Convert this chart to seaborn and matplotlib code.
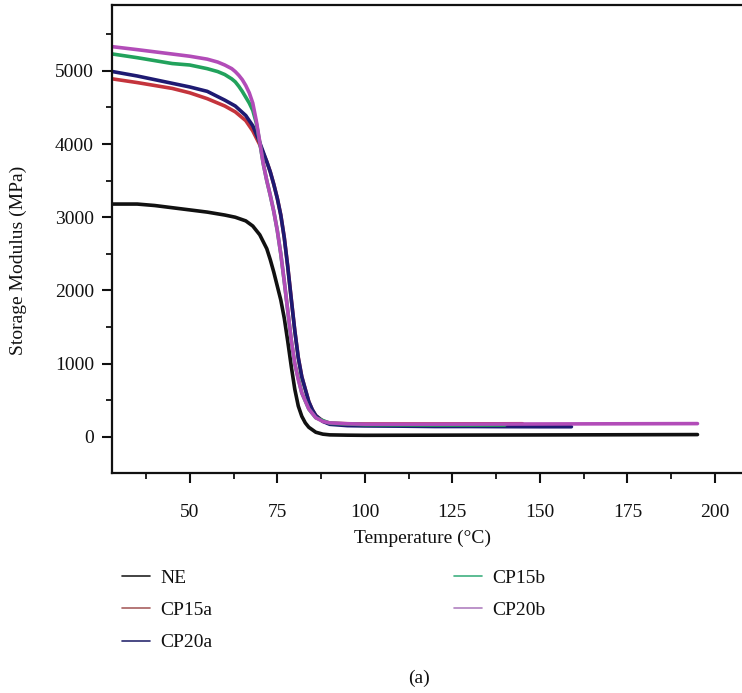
import numpy as np
import pandas as pd
import matplotlib
matplotlib.use("Agg")
import matplotlib.pyplot as plt
import seaborn as sns
from matplotlib.lines import Line2D
from matplotlib.ticker import MultipleLocator

# ---------------- data ----------------
ne_T = [28, 35, 40, 45, 50, 55, 60, 63, 66, 68, 70, 72, 73, 74, 75, 76, 77, 78, 79, 80, 81, 82, 83, 84, 86, 88, 90, 95, 100, 120, 150, 195]
ne_E = [3180, 3180, 3160, 3130, 3100, 3070, 3030, 3000, 2950, 2880, 2760, 2570, 2420, 2250, 2060, 1870, 1620, 1300, 960, 650, 420, 280, 190, 130, 62, 36, 26, 22, 20, 22, 25, 30]

cp15a_T = [28, 35, 40, 45, 50, 55, 60, 63, 66, 68, 70, 72, 73, 74, 75, 76, 77, 78, 79, 80, 81, 82, 84, 85, 86, 88, 90, 95, 100, 120, 145]
cp15a_E = [4890, 4840, 4800, 4760, 4700, 4620, 4520, 4440, 4320, 4180, 3990, 3760, 3620, 3450, 3260, 3030, 2720, 2320, 1880, 1450, 1080, 820, 480, 370, 290, 215, 185, 178, 175, 175, 178]

cp20a_T = [28, 35, 40, 45, 50, 55, 60, 63, 66, 68, 70, 72, 73, 74, 75, 76, 77, 78, 79, 80, 81, 82, 84, 85, 86, 88, 90, 95, 100, 110, 120, 130, 140, 150, 159]
cp20a_E = [4990, 4930, 4880, 4830, 4780, 4720, 4600, 4520, 4390, 4250, 4020, 3760, 3620, 3450, 3260, 3030, 2720, 2320, 1880, 1450, 1080, 820, 480, 370, 290, 210, 170, 152, 148, 145, 140, 140, 138, 137, 137]

cp15b_T = [28, 35, 40, 45, 50, 55, 58, 60, 62, 63, 64, 65, 66, 67, 68, 69, 70, 71, 72, 73, 74, 75, 76, 77, 78, 79, 80, 82, 84, 86, 90, 100, 120, 140]
cp15b_E = [5230, 5180, 5140, 5100, 5080, 5030, 4990, 4950, 4890, 4850, 4790, 4720, 4640, 4560, 4460, 4290, 4020, 3730, 3500, 3300, 3080, 2820, 2500, 2120, 1720, 1320, 1000, 600, 380, 260, 185, 165, 160, 160]

cp20b_T = [28, 35, 40, 45, 50, 55, 58, 60, 62, 63, 64, 65, 66, 67, 68, 69, 70, 71, 72, 73, 74, 75, 76, 77, 78, 79, 80, 81, 82, 84, 86, 88, 90, 95, 100, 120, 150, 195]
cp20b_E = [5330, 5290, 5260, 5230, 5200, 5160, 5120, 5080, 5030, 4990, 4940, 4880, 4800, 4700, 4560, 4320, 4030, 3730, 3500, 3300, 3080, 2820, 2500, 2120, 1720, 1320, 1000, 780, 600, 380, 260, 210, 190, 178, 172, 172, 175, 180]

series_names = ["NE", "CP15a", "CP20a", "CP15b", "CP20b"]
series_T = [ne_T, cp15a_T, cp20a_T, cp15b_T, cp20b_T]
series_E = [ne_E, cp15a_E, cp20a_E, cp15b_E, cp20b_E]
colors = {"NE": "#111111", "CP15a": "#c4343c", "CP20a": "#1e1a72",
          "CP15b": "#22a25c", "CP20b": "#b24cb8"}
legend_colors = {"NE": "#222222", "CP15a": "#a86060", "CP20a": "#2a2a70",
                 "CP15b": "#40b080", "CP20b": "#b080c0"}

x_ticks = [50, 75, 100, 125, 150, 175, 200]
y_ticks = [0, 1000, 2000, 3000, 4000, 5000]

rows = []
for name, T, E in zip(series_names, series_T, series_E):
    for t, e in zip(T, E):
        rows.append({"Temperature": t, "Modulus": e, "Sample": name})
df = pd.DataFrame(rows)

# ---------------- plot ----------------
sns.set_style("ticks")
plt.rcParams["font.family"] = ["Liberation Serif", "DejaVu Serif"]

FS = 14
fig = plt.figure(figsize=(7.42, 6.93), dpi=100)
ax = fig.add_axes([112 / 742, 1 - 473 / 693, 638 / 742, 468 / 693])

sns.lineplot(data=df, x="Temperature", y="Modulus", hue="Sample",
             hue_order=series_names, palette=colors, linewidth=2.6,
             sort=False, estimator=None, legend=False, ax=ax)
for ln in ax.get_lines():
    ln.set_solid_joinstyle("round")

ax.set_xlim(27.8, 210)
ax.set_ylim(-495, 5900)
ax.set_xticks(x_ticks)
ax.set_yticks(y_ticks)
ax.xaxis.set_minor_locator(MultipleLocator(12.5))
ax.yaxis.set_minor_locator(MultipleLocator(500))
ax.tick_params(axis="both", which="major", length=7, width=1.5, labelsize=FS,
               color="#111111", labelcolor="#111111")
ax.tick_params(axis="both", which="minor", length=4, width=1.3, color="#111111")
ax.tick_params(axis="x", which="major", pad=15)
ax.tick_params(axis="y", which="major", pad=6)
for s in ["left", "bottom", "top"]:
    ax.spines[s].set_linewidth(1.6)
    ax.spines[s].set_color("#111111")
ax.spines["right"].set_visible(False)

ax.set_xlabel("")
ax.set_ylabel("Storage Modulus (MPa)", fontsize=FS, color="#111111", va="center")
ax.yaxis.set_label_coords((18 - 112) / 638, (473 - 260) / 468)
fig.text(422 / 742, 1 - 538 / 693, "Temperature (°C)", ha="center", va="center",
         fontsize=FS, color="#111111")

handles = [Line2D([0], [0], color=legend_colors[n], lw=1.2) for n in series_names]
fig.legend(handles, series_names, loc="upper left",
           bbox_to_anchor=(122 / 742, 1 - 569 / 693), ncol=2, frameon=False,
           fontsize=FS, handlelength=1.45, handletextpad=0.5,
           columnspacing=12.45, labelspacing=0.76, borderpad=0, borderaxespad=0,
           labelcolor="#111111")

fig.text(419 / 742, 1 - 678 / 693, "(a)", ha="center", va="center",
         fontsize=FS, color="#111111")

fig.savefig("out.png", dpi=100)
